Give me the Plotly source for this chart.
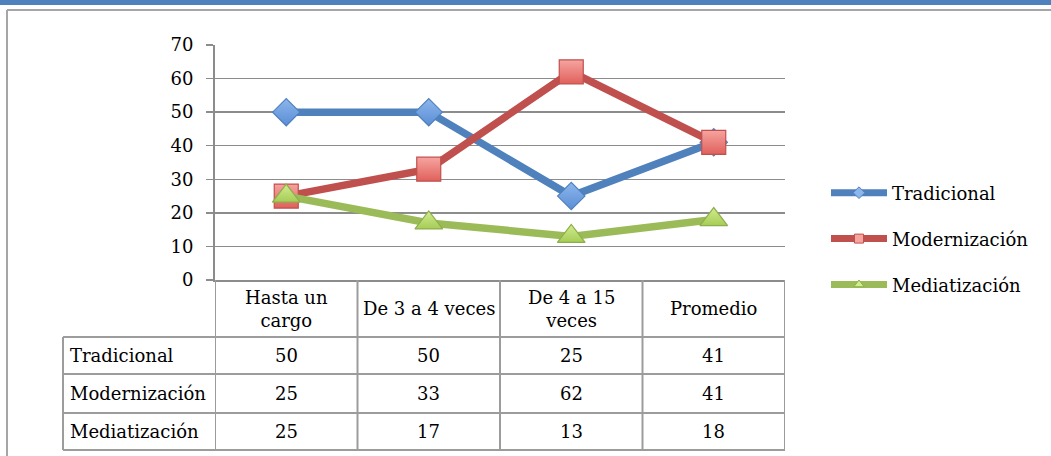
import plotly.graph_objects as go

categories = ["Hasta un<br>cargo", "De 3 a 4 veces", "De 4 a 15<br>veces", "Promedio"]
series_names = ["Tradicional", "Modernización", "Mediatización"]
tradicional = [50, 50, 25, 41]
modernizacion = [25, 33, 62, 41]
mediatizacion = [25, 17, 13, 18]
y_ticks = [0, 10, 20, 30, 40, 50, 60, 70]

W, H = 1051, 456
FONT = "DejaVu Serif"
FS = 18
GRID = "#8c8c8c"
TBL = "#9c9c9c"


def px_x(x):
    return x / W


def px_y(y):
    return 1 - y / H


styles = [
    dict(line="#4F81BD", fill="#8DB6EC", shade="#5A8ED6", edge="#4F81BD", symbol="diamond", size=21),
    dict(line="#C0504D", fill="#F6A4A0", shade="#E0605B", edge="#C0504D", symbol="square", size=24),
    dict(line="#9BBB59", fill="#D2EC90", shade="#A6CC55", edge="#8DAE4C", symbol="triangle-up", size=24),
]
values = [tradicional, modernizacion, mediatizacion]
xs = list(range(len(categories)))

fig = go.Figure()
for name, vals, st in zip(series_names, values, styles):
    fig.add_trace(go.Scatter(
        x=xs, y=vals, name=name, mode="lines+markers", showlegend=False,
        line=dict(color=st["line"], width=7.5),
        marker=dict(symbol=st["symbol"], size=st["size"], color=st["fill"],
                    gradient=dict(type="vertical", color=st["shade"]),
                    line=dict(color=st["edge"], width=1.2)),
    ))
# legend entries with small markers, like the original
for name, st in zip(series_names, styles):
    fig.add_trace(go.Scatter(
        x=[None], y=[None], name=name, mode="lines+markers", legendgroup=name,
        line=dict(color=st["line"], width=7),
        marker=dict(symbol=st["symbol"], size=9, color=st["fill"],
                    line=dict(color=st["edge"], width=1)),
    ))

# table geometry (pixels)
plot_top, plot_bot = 45, 280
row_lines = [337, 374, 413, 450]
label_left = 63

shapes = []
# top blue bar and outer frame
shapes.append(dict(type="rect", xref="paper", yref="paper", x0=0, x1=1,
                   y0=px_y(5), y1=1, fillcolor="#4F81BD", line_width=0, layer="below"))
shapes.append(dict(type="line", xref="paper", yref="paper", x0=px_x(7), x1=1,
                   y0=px_y(10), y1=px_y(10), line=dict(color="#a6a6a6", width=2)))
shapes.append(dict(type="line", xref="paper", yref="paper", x0=px_x(7), x1=px_x(7),
                   y0=px_y(10), y1=0, line=dict(color="#a6a6a6", width=2)))

# table vertical lines on category boundaries
for i in range(len(categories) + 1):
    shapes.append(dict(type="line", xref="x", yref="paper", x0=i - 0.5, x1=i - 0.5,
                       y0=px_y(plot_bot), y1=px_y(row_lines[-1]),
                       line=dict(color=TBL, width=2)))
shapes.append(dict(type="line", xref="paper", yref="paper", x0=px_x(label_left), x1=px_x(label_left),
                   y0=px_y(row_lines[0]), y1=px_y(row_lines[-1]), line=dict(color=TBL, width=2)))
for yl in row_lines:
    shapes.append(dict(type="line", xref="paper", yref="paper",
                       x0=px_x(label_left), x1=px_x(785), y0=px_y(yl), y1=px_y(yl),
                       line=dict(color=TBL, width=2)))

annotations = []
hdr_mid = px_y((plot_bot + row_lines[0]) / 2)
for i, c in enumerate(categories):
    annotations.append(dict(x=i, y=hdr_mid, xref="x", yref="paper", text=c, showarrow=False,
                            font=dict(family=FONT, size=FS, color="black"),
                            xanchor="center", yanchor="middle"))
for r, (name, vals) in enumerate(zip(series_names, values)):
    ymid = px_y((row_lines[r] + row_lines[r + 1]) / 2)
    annotations.append(dict(x=px_x(label_left + 5), y=ymid, xref="paper", yref="paper", text=name,
                            showarrow=False, font=dict(family=FONT, size=FS, color="black"),
                            xanchor="left", yanchor="middle"))
    for i, v in enumerate(vals):
        annotations.append(dict(x=i, y=ymid, xref="x", yref="paper", text=str(v), showarrow=False,
                                font=dict(family=FONT, size=FS, color="black"),
                                xanchor="center", yanchor="middle"))

fig.update_layout(
    width=W, height=H, autosize=False,
    margin=dict(l=0, r=0, t=0, b=0, pad=0, autoexpand=False),
    paper_bgcolor="white", plot_bgcolor="white",
    font=dict(family=FONT, size=FS, color="black"),
    hovermode=False,
    showlegend=True,
    legend=dict(x=px_x(826), y=px_y(174.5), xanchor="left", yanchor="top",
                tracegroupgap=19.5, itemwidth=56,
                font=dict(family=FONT, size=FS), bgcolor="rgba(0,0,0,0)"),
    shapes=shapes,
    annotations=annotations,
)
fig.update_xaxes(domain=[px_x(215), px_x(785)], range=[-0.5, len(categories) - 0.5],
                 showticklabels=False, showgrid=False, zeroline=False,
                 showline=True, linecolor=GRID, linewidth=2, ticks="")
fig.update_yaxes(domain=[px_y(plot_bot), px_y(plot_top)], range=[0, 70], tickvals=y_ticks,
                 showgrid=True, gridcolor=GRID, gridwidth=1.5, zeroline=False,
                 showline=True, linecolor=GRID, linewidth=2,
                 ticks="outside", ticklen=7, tickcolor=GRID, tickwidth=1.5,
                 tickfont=dict(family=FONT, size=FS), ticklabelstandoff=9)

# pin the figure to the page corner so the page is exactly the figure
page_fix = ("var gd=document.getElementById('{plot_id}');"
            "document.documentElement.style.margin='0';document.body.style.margin='0';"
            "document.documentElement.style.overflow='hidden';document.body.style.overflow='hidden';"
            "gd.style.position='fixed';gd.style.left='0px';gd.style.top='0px';")
fig.write_html("out.html", post_script=page_fix, config={"displayModeBar": False, "staticPlot": True})
